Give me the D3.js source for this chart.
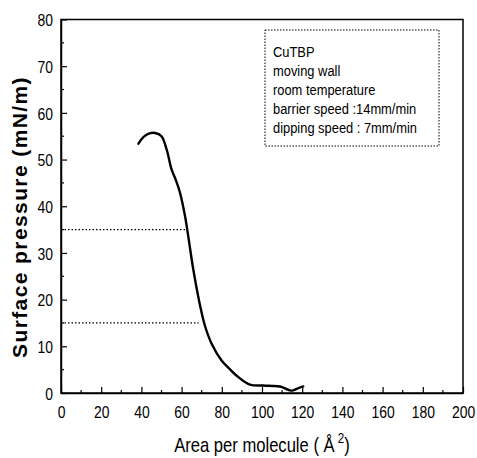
<!DOCTYPE html>
<html>
<head>
<meta charset="utf-8">
<style>
  body { margin: 0; background: #fff; }
  svg { display: block; }
  .tick text { font-family: "Liberation Sans", Arial, sans-serif; font-size: 17px; fill: #000; }
</style>
</head>
<body>
<svg width="477" height="458"></svg>
<script src="https://cdn.jsdelivr.net/npm/d3@7/dist/d3.min.js"></script>
<script>
// isotherm
var areaValues = [38.5, 41, 44, 46.8, 50, 52.6, 55, 56.7, 59.2, 61.7, 63.3, 65.8, 69.2, 71.6, 75, 80, 84, 87.4, 94, 100.6, 105, 109, 113, 115, 117.3, 120.5];
var pressureValues = [53.4, 54.8, 55.6, 55.7, 55.0, 52.1, 47.9, 46.1, 42.9, 37.9, 33.6, 26.5, 18.7, 14.4, 10.5, 6.9, 5.1, 3.7, 1.8, 1.6, 1.5, 1.4, 0.7, 0.5, 0.9, 1.4];

// dotted guide lines: pressure level and the area where they stop
var guidePressure = [35, 15];
var guideArea = [62, 68.5];

var xTicks = [0, 20, 40, 60, 80, 100, 120, 140, 160, 180, 200];
var yTicks = [0, 10, 20, 30, 40, 50, 60, 70, 80];

var legendLines = ["CuTBP", "moving wall", "room temperature", "barrier speed :14mm/min", "dipping speed : 7mm/min"];

var svg = d3.select("svg");
var pLeft = 61, pRight = 463, pTop = 19.5, pBottom = 393;
var narrow = 0.82; // the scan's font is a condensed sans

var x = d3.scaleLinear().domain([0, 200]).range([pLeft, pRight]);
var y = d3.scaleLinear().domain([0, 80]).range([pBottom, pTop]);

// frame
svg.append("rect")
    .attr("x", pLeft).attr("y", pTop)
    .attr("width", pRight - pLeft).attr("height", pBottom - pTop)
    .attr("fill", "none").attr("stroke", "#000").attr("stroke-width", 1.5);

// minor ticks
var minorX = d3.range(10, 200, 20);
svg.append("g").selectAll("line").data(minorX).join("line")
    .attr("x1", d => x(d)).attr("x2", d => x(d))
    .attr("y1", pBottom).attr("y2", pBottom - 3)
    .attr("stroke", "#000").attr("stroke-width", 1.2);
var minorY = d3.range(5, 80, 10);
svg.append("g").selectAll("line").data(minorY).join("line")
    .attr("y1", d => y(d)).attr("y2", d => y(d))
    .attr("x1", pLeft).attr("x2", pLeft + 3)
    .attr("stroke", "#000").attr("stroke-width", 1.2);

var xAxis = svg.append("g")
    .attr("transform", "translate(0," + pBottom + ")")
    .call(d3.axisBottom(x).tickValues(xTicks).tickSize(-6).tickSizeOuter(0));
var yAxis = svg.append("g")
    .attr("transform", "translate(" + pLeft + ",0)")
    .call(d3.axisLeft(y).tickValues(yTicks).tickSize(-6).tickSizeOuter(0));
[xAxis, yAxis].forEach(function (a) {
    a.select(".domain").attr("stroke-width", 1.5);
    a.selectAll(".tick line").attr("stroke-width", 1.2);
});
xAxis.selectAll(".tick text")
    .attr("y", 25).attr("dy", 0)
    .attr("transform", "scale(" + narrow + ",1)");
yAxis.selectAll(".tick text")
    .attr("x", -8 / narrow).attr("dy", "0.36em")
    .attr("transform", "scale(" + narrow + ",1)");

// dotted guides
svg.append("g").selectAll("line").data(guidePressure).join("line")
    .attr("x1", pLeft).attr("x2", (d, i) => x(guideArea[i]))
    .attr("y1", d => y(d)).attr("y2", d => y(d))
    .attr("stroke", "#000").attr("stroke-width", 1.3)
    .attr("stroke-dasharray", "1.5,2");

// isotherm curve
var pts = areaValues.map((a, i) => [a, pressureValues[i]]);
svg.append("path")
    .datum(pts)
    .attr("fill", "none").attr("stroke", "#000").attr("stroke-width", 2.4)
    .attr("stroke-linejoin", "round").attr("stroke-linecap", "round")
    .attr("d", d3.line().x(d => x(d[0])).y(d => y(d[1])).curve(d3.curveCatmullRom));

// legend box
svg.append("rect")
    .attr("x", 265).attr("y", 30).attr("width", 174).attr("height", 116)
    .attr("fill", "none").attr("stroke", "#000").attr("stroke-width", 1)
    .attr("stroke-dasharray", "1.5,1.5");
svg.append("g").attr("transform", "translate(273,0) scale(0.86,1)")
    .selectAll("text").data(legendLines).join("text")
    .attr("x", 0).attr("y", (d, i) => 57 + i * 19)
    .attr("font-family", "\"Liberation Sans\", Arial, sans-serif")
    .attr("font-size", 15)
    .text(d => d);

// axis titles
svg.append("text")
    .attr("transform", "translate(27,217) rotate(-90)")
    .attr("text-anchor", "middle")
    .attr("font-family", "\"Liberation Sans\", Arial, sans-serif")
    .attr("font-weight", "bold").attr("font-size", 21)
    .attr("letter-spacing", 1.4)
    .text("Surface pressure (mN/m)");

var xt = svg.append("text")
    .attr("transform", "translate(262,452) scale(0.83,1)")
    .attr("text-anchor", "middle")
    .attr("font-family", "\"Liberation Sans\", Arial, sans-serif")
    .attr("font-size", 20);
xt.append("tspan").text("Area per molecule ( Å");
xt.append("tspan").attr("font-size", 14).attr("dy", -9).text(" 2");
xt.append("tspan").attr("dy", 9).text(")");
</script>
</body>
</html>
